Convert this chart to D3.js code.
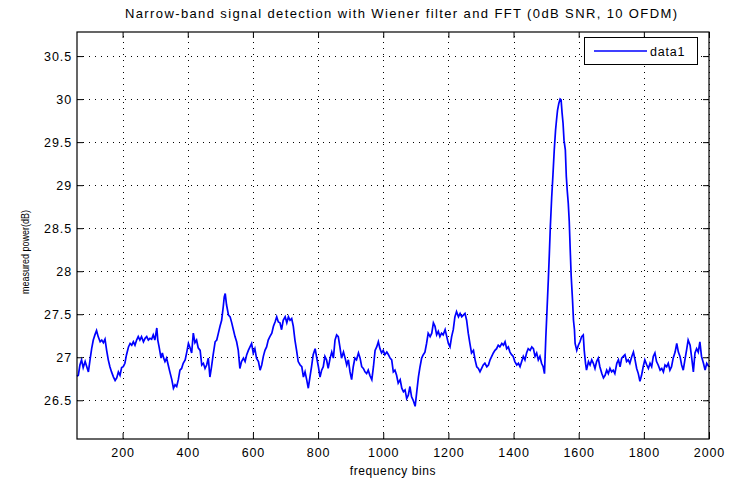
<!DOCTYPE html>
<html>
<head>
<meta charset="utf-8">
<script src="https://cdn.jsdelivr.net/npm/d3@7"></script>
<style>
  body { margin: 0; background: #fff; }
  text { font-family: "Liberation Sans", Arial, Helvetica, sans-serif; fill: #000; }
</style>
</head>
<body>
<svg id="chart" width="730" height="480"></svg>
<script>
// Labels and ticks
const titleText = "Narrow-band signal detection with Wiener filter and FFT (0dB SNR, 10 OFDM)";
const xLabel = "frequency bins";
const yLabel = "measured power(dB)";
const seriesName = "data1";
const xTicks = [200, 400, 600, 800, 1000, 1200, 1400, 1600, 1800, 2000];
const yTicks = [26.5, 27, 27.5, 28, 28.5, 29, 29.5, 30, 30.5];

// Measured power per frequency bin after Wiener filtering
const bins = [
  60,64,69,74,79,85,90,95,100,105,
  110,115,120,125,131,136,141,146,151,156,
  161,166,172,177,182,187,192,197,202,207,
  212,218,223,228,233,238,243,248,253,258,
  264,269,274,279,284,289,294,299,305,308,
  312,318,322,326,330,335,340,345,351,356,
  361,366,371,376,381,386,392,397,402,407,
  412,417,422,427,432,
  438,443,448,453,458,463,468,473,478,484,
  489,494,499,504,509,512,515,519,525,530,
  535,540,545,550,555,560,565,571,576,581,
  586,591,596,601,606,611,617,622,627,632,
  637,642,647,652,658,663,668,673,678,683,
  688,693,699,704,709,714,719,724,729,734,
  739,745,750,755,760,765,770,775,780,785,
  791,796,801,806,811,816,
  821,826,831,837,842,847,852,857,862,867,
  872,878,883,888,893,898,903,908,913,918,
  924,929,934,939,944,949,954,959,965,970,
  975,980,985,990,995,1000,1005,1011,1016,1021,
  1026,1031,1036,1041,1046,1052,1057,1062,1067,1072,
  1077,1082,1087,1092,1098,1103,1108,1113,1118,1123,
  1128,1133,1138,1144,1149,1154,1159,1164,1169,1174,
  1179,1184,1190,1195,1200,
  1205,1210,1215,1220,1225,1231,1236,1241,1246,1251,
  1256,1261,1266,1271,1277,1282,1287,1292,1297,1302,
  1307,1312,1318,1323,1328,1333,1338,1343,1348,1353,
  1358,1364,1369,1374,1379,1384,1389,1394,1399,1404,
  1410,1415,1420,1425,1430,1435,1440,1445,1451,1456,
  1461,1466,1471,1476,1481,1486,1491,1495,1499,1503,
  1507,1510,1513,1517,1521,1525,1529,1532,1535,1539,
  1543,1546,1549,1552,1555,1559,1562,1565,1568,1571,
  1574,1577,1581,1584,1587,
  1589,1594,1599,1604,1609,1614,1617,1621,1624,1630,
  1635,1640,1645,1650,1655,1660,1665,1671,1676,1681,
  1686,1691,1696,1701,1706,1711,1717,1722,1727,1732,
  1737,1742,1747,1752,1757,1763,1768,1773,1778,1783,
  1788,1793,1798,1803,1809,1814,1819,1824,1829,1834,
  1839,1844,1850,1855,1860,1865,1870,1875,1880,1885,
  1890,1896,1901,1906,1911,1916,1921,1926,1931,1936,
  1942,1947,1952,1957,1962,1967,1972,1977,1983,1988,
  1993,2000
];
const power = [
  26.78,26.79,26.91,26.97,26.88,26.95,26.89,26.83,26.97,27.10,
  27.20,27.26,27.31,27.24,27.18,27.20,27.17,27.21,27.08,26.97,
  26.89,26.83,26.77,26.73,26.76,26.83,26.79,26.88,26.89,26.93,
  27.03,27.12,27.16,27.14,27.18,27.14,27.20,27.24,27.20,27.24,
  27.18,27.22,27.24,27.20,27.22,27.21,27.26,27.20,27.34,27.20,
  27.12,26.99,27.05,26.99,26.95,26.99,26.91,26.83,26.74,26.64,
  26.68,26.66,26.74,26.85,26.87,26.93,26.97,27.06,27.16,27.11,
  27.05,27.28,27.17,27.20,27.11,
  27.08,26.91,26.93,26.87,26.91,26.99,26.77,26.89,27.03,27.18,
  27.20,27.28,27.36,27.43,27.59,27.70,27.74,27.61,27.49,27.47,
  27.40,27.32,27.24,27.18,27.08,26.87,26.95,26.99,26.95,27.03,
  27.08,27.12,27.16,27.05,27.10,26.99,26.95,26.85,26.91,27.01,
  27.08,27.12,27.20,27.24,27.28,27.36,27.41,27.47,27.41,27.40,
  27.32,27.43,27.47,27.40,27.47,27.43,27.45,27.36,27.20,27.08,
  26.95,26.91,26.89,26.77,26.83,26.74,26.64,26.77,26.89,27.03,
  27.10,26.99,26.89,26.77,26.85,26.89,
  27.01,26.97,26.87,26.99,27.06,26.99,27.20,27.26,27.24,27.12,
  26.99,27.06,26.99,26.91,26.97,26.83,26.74,26.89,26.99,26.97,
  27.05,26.99,26.89,26.87,26.83,26.81,26.85,26.79,26.74,26.89,
  27.08,27.12,27.18,27.10,27.05,27.08,27.03,27.06,27.03,26.99,
  26.97,26.83,26.85,26.79,26.70,26.74,26.64,26.60,26.62,26.52,
  26.56,26.66,26.54,26.50,26.43,26.60,26.77,26.89,26.99,27.03,
  27.06,27.16,27.28,27.24,27.28,27.40,27.36,27.26,27.30,27.24,
  27.28,27.26,27.32,27.24,27.16,
  27.12,27.24,27.32,27.47,27.53,27.47,27.51,27.47,27.49,27.51,
  27.43,27.28,27.16,27.05,27.08,26.97,26.89,26.87,26.83,26.87,
  26.91,26.93,26.89,26.91,26.97,27.01,27.05,27.08,27.10,27.14,
  27.12,27.16,27.14,27.18,27.10,27.12,27.06,27.03,27.01,26.95,
  26.91,26.93,26.89,26.95,27.01,26.97,27.05,27.10,27.08,27.12,
  27.10,27.01,27.05,26.97,27.01,26.93,26.89,26.81,27.22,27.57,
  27.92,28.21,28.52,28.85,29.12,29.41,29.64,29.76,29.87,29.95,
  30.00,29.99,29.84,29.72,29.52,29.41,29.10,28.93,28.79,28.58,
  28.25,27.94,27.67,27.43,27.32,
  27.16,27.08,27.14,27.18,27.24,27.26,27.08,26.93,26.85,26.95,
  26.91,26.97,26.93,26.87,26.95,26.99,26.89,26.81,26.76,26.79,
  26.85,26.81,26.87,26.83,26.85,26.81,26.93,26.97,26.89,26.99,
  27.01,27.03,26.95,26.97,26.93,27.01,27.06,26.97,26.87,26.81,
  26.72,26.79,26.89,26.97,26.91,26.87,26.93,26.89,27.01,27.05,
  26.95,26.91,26.85,26.87,26.83,26.91,26.89,26.93,26.85,26.89,
  26.99,27.06,27.16,27.06,27.01,26.91,26.85,26.97,27.08,27.20,
  27.14,26.99,26.83,27.05,27.10,27.06,27.18,27.01,26.93,26.85,
  26.93,26.89
];

const svg = d3.select("#chart");
const plot = { left: 77, right: 709, top: 32, bottom: 439 };

const x = d3.scaleLinear().domain([60, 2000]).range([plot.left, plot.right]);
const y = d3.scaleLinear().domain([26.05, 30.78]).range([plot.bottom, plot.top]);

svg.append("rect").attr("width", 730).attr("height", 480).attr("fill", "#fff");

// Dotted grid
const grid = svg.append("g")
  .attr("stroke", "#000")
  .attr("stroke-width", 1)
  .attr("stroke-dasharray", "1,5")
  .attr("shape-rendering", "crispEdges");
grid.selectAll("line.gx").data(xTicks).join("line")
  .attr("class", "gx")
  .attr("x1", d => Math.round(x(d)) + 0.5).attr("x2", d => Math.round(x(d)) + 0.5)
  .attr("y1", plot.bottom).attr("y2", plot.top);
grid.selectAll("line.gy").data(yTicks).join("line")
  .attr("class", "gy")
  .attr("y1", d => Math.round(y(d)) + 0.5).attr("y2", d => Math.round(y(d)) + 0.5)
  .attr("x1", plot.left).attr("x2", plot.right);

// Spectrum trace
const points = d3.zip(bins, power);
svg.append("path")
  .datum(points)
  .attr("fill", "none")
  .attr("stroke", "#0000ff")
  .attr("stroke-width", 1.7)
  .attr("stroke-linejoin", "miter")
  .attr("d", d3.line().x(d => x(d[0])).y(d => y(d[1])));

// Axes with inward ticks on all four sides
const tickLen = 6;
const styleAxis = g => {
  g.select(".domain").remove();
  g.selectAll(".tick line").attr("stroke", "#000");
  g.selectAll(".tick text")
    .style("font-size", "12.5px")
    .style("letter-spacing", "0.9px");
};
svg.append("g")
  .attr("transform", `translate(0,${plot.bottom})`)
  .call(d3.axisBottom(x).tickValues(xTicks).tickSize(-tickLen).tickPadding(9).tickFormat(d3.format("d")))
  .call(styleAxis);
svg.append("g")
  .attr("transform", `translate(0,${plot.top})`)
  .call(d3.axisTop(x).tickValues(xTicks).tickSize(-tickLen).tickFormat(""))
  .call(styleAxis);
svg.append("g")
  .attr("transform", `translate(${plot.left},0)`)
  .call(d3.axisLeft(y).tickValues(yTicks).tickSize(-tickLen).tickPadding(5).tickFormat(d => String(d)))
  .call(styleAxis);
svg.append("g")
  .attr("transform", `translate(${plot.right},0)`)
  .call(d3.axisRight(y).tickValues(yTicks).tickSize(-tickLen).tickFormat(""))
  .call(styleAxis);

// Plot frame
svg.append("rect")
  .attr("x", plot.left).attr("y", plot.top)
  .attr("width", plot.right - plot.left).attr("height", plot.bottom - plot.top)
  .attr("fill", "none").attr("stroke", "#000").attr("stroke-width", 1.2);

// Titles
svg.append("text")
  .attr("x", 125).attr("y", 18)
  .attr("textLength", 552)
  .style("font-size", "13px")
  .text(titleText);
svg.append("text")
  .attr("x", (plot.left + plot.right) / 2).attr("y", 475)
  .attr("text-anchor", "middle")
  .style("font-size", "12px")
  .style("letter-spacing", "0.6px")
  .text(xLabel);
svg.append("text")
  .attr("transform", "translate(29,252) rotate(-90)")
  .attr("text-anchor", "middle")
  .attr("textLength", 84)
  .attr("lengthAdjust", "spacingAndGlyphs")
  .style("font-size", "11.5px")
  .text(yLabel);

// Legend
const legend = svg.append("g");
legend.append("rect")
  .attr("x", 584.5).attr("y", 37.5).attr("width", 113).attr("height", 27)
  .attr("fill", "#fff").attr("stroke", "#000").attr("stroke-width", 1);
legend.append("line")
  .attr("x1", 594).attr("x2", 647).attr("y1", 51).attr("y2", 51)
  .attr("stroke", "#0000ff").attr("stroke-width", 1.5);
legend.append("text")
  .attr("x", 650).attr("y", 55.5)
  .style("font-size", "12.5px")
  .style("letter-spacing", "0.8px")
  .text(seriesName);
</script>
</body>
</html>
